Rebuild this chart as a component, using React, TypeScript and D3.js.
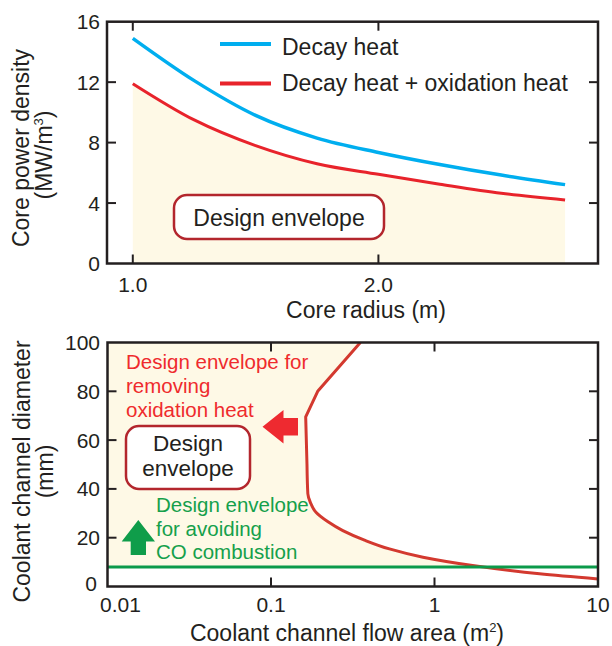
import React from 'react';
import * as d3 from 'd3';

// top panel: core power density vs core radius
const radius = [1.0, 1.25, 1.5, 1.75, 2.0, 2.25, 2.5, 2.76];
const decayHeat = [14.9, 12.1, 9.8, 8.3, 7.35, 6.55, 5.85, 5.22];
const decayOxHeat = [11.9, 9.5, 7.8, 6.6, 5.9, 5.25, 4.65, 4.2];
const topYTicks = [0, 4, 8, 12, 16];
const topXTicks = [1.0, 2.0];

// bottom panel: coolant channel diameter vs flow area
const flowArea = [0.352, 0.193, 0.163, 0.166, 0.168, 0.174, 0.189, 0.222, 0.275, 0.373, 0.53, 0.85, 1.71, 4.39, 10];
const channelDiameter = [100, 80, 69.5, 50, 38, 34.5, 30.3, 26.6, 22.9, 19, 15.4, 12, 8.6, 5.2, 3.1];
const coLimit = 8;
const botYTicks = [0, 20, 40, 60, 80, 100];
const botXTicks = [0.01, 0.1, 1, 10];

const FONT = '"Liberation Sans", Arial, Helvetica, sans-serif';
const INK = '#231f20';
const FILL = '#fef9e6';

const TopPanel = () => {
  const x = d3.scaleLinear().domain([0.895, 2.894]).range([107, 598]);
  const y = d3.scaleLinear().domain([0, 16]).range([263.5, 21.7]);
  const pts = (vals: number[]) => radius.map((r, i) => [r, vals[i]] as [number, number]);
  const line = d3.line<[number, number]>().x(d => x(d[0])).y(d => y(d[1])).curve(d3.curveMonotoneX);
  const area = d3.area<[number, number]>().x(d => x(d[0])).y0(y(0)).y1(d => y(d[1])).curve(d3.curveMonotoneX);
  const [x0, x1] = x.range();
  const [yb, yt] = y.range();

  return (
    <g>
      <path d={area(pts(decayOxHeat)) || ''} fill={FILL} />
      <path d={line(pts(decayHeat)) || ''} fill="none" stroke="#00aeef" strokeWidth={3.5} />
      <path d={line(pts(decayOxHeat)) || ''} fill="none" stroke="#e8232b" strokeWidth={3} />

      {/* legend */}
      <line x1={220} x2={271} y1={44} y2={44} stroke="#00aeef" strokeWidth={4} />
      <text x={282} y={55} fontSize={23} fill={INK}>Decay heat</text>
      <line x1={220} x2={271} y1={83.5} y2={83.5} stroke="#e8232b" strokeWidth={4} />
      <text x={282} y={91} fontSize={23} fill={INK}>Decay heat + oxidation heat</text>

      {/* design envelope box */}
      <rect x={174} y={195} width={210} height={44} rx={13} fill="#fff" stroke="#b3262d" strokeWidth={2.5} />
      <text x={279} y={225.5} fontSize={23} fill={INK} textAnchor="middle">Design envelope</text>

      {/* frame + inward ticks */}
      <rect x={x0} y={yt} width={x1 - x0} height={yb - yt} fill="none" stroke={INK} strokeWidth={2.5} />
      {topYTicks.slice(1, -1).map(t => (
        <g key={'ty' + t}>
          <line x1={x0} x2={x0 + 9} y1={y(t)} y2={y(t)} stroke={INK} strokeWidth={2} />
          <line x1={x1} x2={x1 - 9} y1={y(t)} y2={y(t)} stroke={INK} strokeWidth={2} />
        </g>
      ))}
      {topXTicks.map(t => (
        <g key={'tx' + t}>
          <line x1={x(t)} x2={x(t)} y1={yb} y2={yb - 9} stroke={INK} strokeWidth={2} />
          <line x1={x(t)} x2={x(t)} y1={yt} y2={yt + 9} stroke={INK} strokeWidth={2} />
        </g>
      ))}
      {topYTicks.map(t => (
        <text key={'tyl' + t} x={100} y={y(t)} dy="0.36em" fontSize={21} fill={INK} textAnchor="end">{t}</text>
      ))}
      {topXTicks.map(t => (
        <text key={'txl' + t} x={x(t)} y={291.5} fontSize={21} fill={INK} textAnchor="middle">{d3.format('.1f')(t)}</text>
      ))}

      <text x={366} y={318} fontSize={23} fill={INK} textAnchor="middle">Core radius (m)</text>
      <text transform="translate(29,148) rotate(-90)" fontSize={23} fill={INK} textAnchor="middle">Core power density</text>
      <text transform="translate(52,155) rotate(-90)" fontSize={23} fill={INK} textAnchor="middle">
        (MW/m<tspan dy={-9} fontSize={13}>3</tspan><tspan dy={9}>)</tspan>
      </text>
    </g>
  );
};

const BottomPanel = () => {
  const x = d3.scaleLog().domain([0.01, 10]).range([107.5, 598]);
  const y = d3.scaleLinear().domain([0, 100]).range([586.5, 342.5]);
  const pts = flowArea.map((a, i) => [a, channelDiameter[i]] as [number, number]);
  // straight segments along the top, smooth bend below 50 mm
  const upper = d3.line<[number, number]>().x(d => x(d[0])).y(d => y(d[1]));
  const lower = d3.line<[number, number]>().x(d => x(d[0])).y(d => y(d[1])).curve(d3.curveMonotoneY);
  const split = 3;
  const curvePath = (upper(pts.slice(0, split + 1)) || '') + (lower(pts.slice(split)) || '').replace(/^M/, 'L');
  const [x0, x1] = x.range();
  const [yb, yt] = y.range();
  const last = pts[pts.length - 1];
  const fillPath = `M${x(0.01)},${y(100)}L` + curvePath.slice(1) + `L${x(0.01)},${y(last[1])}Z`;

  return (
    <g>
      <defs>
        <clipPath id="aboveCo">
          <rect x={x0} y={yt} width={x1 - x0} height={y(coLimit) - yt} />
        </clipPath>
        <clipPath id="botPlot">
          <rect x={x0} y={yt} width={x1 - x0} height={yb - yt} />
        </clipPath>
      </defs>
      <path d={fillPath} fill={FILL} clipPath="url(#aboveCo)" />
      <g clipPath="url(#botPlot)">
        <path d={curvePath} fill="none" stroke="#d3392f" strokeWidth={3} strokeLinejoin="round" />
        <line x1={x0} x2={x1} y1={y(coLimit)} y2={y(coLimit)} stroke="#0b9a4a" strokeWidth={3} />
      </g>

      {/* red annotation */}
      <g fontSize={20.5} fill="#ef2b2d">
        <text x={126} y={368.5}>Design envelope for</text>
        <text x={126} y={392.5}>removing</text>
        <text x={126} y={416.5}>oxidation heat</text>
      </g>
      <path d="M262.5,426.7 L283.5,410 L283.5,418 L298,418 L298,435.5 L283.5,435.5 L283.5,443.5 Z" fill="#ee2a30" />

      {/* design envelope box */}
      <rect x={126} y={426} width={124} height={63} rx={13} fill="#fff" stroke="#b3262d" strokeWidth={2.5} />
      <text x={188} y={451} fontSize={22.5} fill={INK} textAnchor="middle">Design</text>
      <text x={188} y={475.5} fontSize={22.5} fill={INK} textAnchor="middle">envelope</text>

      {/* green annotation */}
      <g fontSize={20.5} fill="#15a04b">
        <text x={156} y={512}>Design envelope</text>
        <text x={156} y={535.5}>for avoiding</text>
        <text x={156} y={559}>CO combustion</text>
      </g>
      <path d="M138.3,520 L155,541.5 L146,541.5 L146,555 L130.7,555 L130.7,541.5 L121.7,541.5 Z" fill="#0f9d4a" />

      {/* frame + inward ticks */}
      <rect x={x0} y={yt} width={x1 - x0} height={yb - yt} fill="none" stroke={INK} strokeWidth={2.5} />
      {botYTicks.slice(1, -1).map(t => (
        <g key={'by' + t}>
          <line x1={x0} x2={x0 + 9} y1={y(t)} y2={y(t)} stroke={INK} strokeWidth={2} />
          <line x1={x1} x2={x1 - 9} y1={y(t)} y2={y(t)} stroke={INK} strokeWidth={2} />
        </g>
      ))}
      {botXTicks.slice(1, -1).map(t => (
        <g key={'bx' + t}>
          <line x1={x(t)} x2={x(t)} y1={yb} y2={yb - 9} stroke={INK} strokeWidth={2} />
          <line x1={x(t)} x2={x(t)} y1={yt} y2={yt + 9} stroke={INK} strokeWidth={2} />
        </g>
      ))}
      {botYTicks.map(t => (
        <text key={'byl' + t} x={t === 0 ? 97 : 100} y={t === 0 ? y(t) - 3.5 : y(t)} dy="0.36em"
          fontSize={21} fill={INK} textAnchor="end">{t}</text>
      ))}
      {botXTicks.map(t => (
        <text key={'bxl' + t} x={t === 0.01 ? 100 : x(t)} y={611.5} fontSize={21} fill={INK}
          textAnchor={t === 0.01 ? 'start' : 'middle'}>{String(t)}</text>
      ))}

      <text x={347} y={641} fontSize={23} fill={INK} textAnchor="middle">
        Coolant channel flow area (m<tspan dy={-9} fontSize={13}>2</tspan><tspan dy={9}>)</tspan>
      </text>
      <text transform="translate(30,471.5) rotate(-90)" fontSize={23} fill={INK} textAnchor="middle">Coolant channel diameter</text>
      <text transform="translate(53,471.5) rotate(-90)" fontSize={23} fill={INK} textAnchor="middle">(mm)</text>
    </g>
  );
};

const App = () => (
  <svg width={612} height={646} style={{ position: 'absolute', left: 0, top: 0, background: '#fff' }}
    fontFamily={FONT}>
    <TopPanel />
    <BottomPanel />
  </svg>
);

export default App;
